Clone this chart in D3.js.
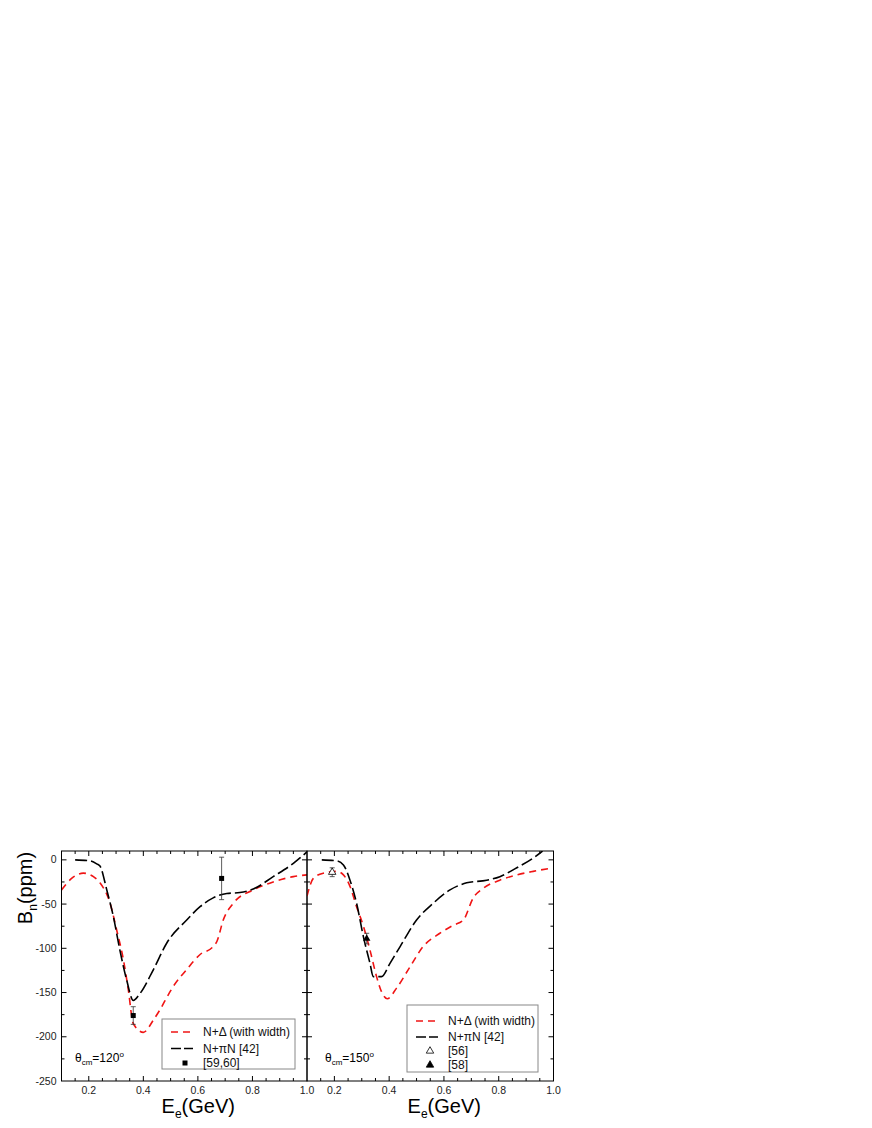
<!DOCTYPE html>
<html>
<head>
<meta charset="utf-8">
<script src="https://cdn.jsdelivr.net/npm/d3@7"></script>
<style>
  body { margin: 0; background: #fff; }
  svg { font-family: "Liberation Sans", Arial, sans-serif; }
</style>
</head>
<body>
<div id="chart"></div>
<script>
// energies (GeV) and B_n (ppm)
const e120Delta = [0.1, 0.137, 0.18, 0.217, 0.241, 0.278, 0.302, 0.327, 0.345, 0.363, 0.4, 0.437, 0.46, 0.498, 0.51, 0.559, 0.608, 0.656, 0.67, 0.693, 0.73, 0.803, 0.876, 0.95, 1.0];
const b120Delta = [-34, -21, -15, -19, -26, -49, -79, -113, -147, -185, -195, -181, -170, -149, -143, -124, -107, -98, -92, -68, -49, -34, -25, -19, -17];
const e120PiN = [0.15, 0.202, 0.229, 0.241, 0.266, 0.29, 0.314, 0.339, 0.363, 0.388, 0.437, 0.486, 0.559, 0.608, 0.656, 0.706, 0.754, 0.803, 0.876, 0.95, 1.0];
const b120PiN = [0, -1, -4.5, -7, -34, -64, -102, -136, -159, -151, -124, -94, -68, -53, -43, -38, -37, -33, -19, -4, 9];
const e150Delta = [0.1, 0.123, 0.16, 0.208, 0.233, 0.257, 0.281, 0.306, 0.33, 0.354, 0.372, 0.393, 0.427, 0.476, 0.524, 0.585, 0.634, 0.671, 0.707, 0.744, 0.804, 0.866, 0.926, 0.98];
const b150Delta = [-41, -21, -15, -13, -17, -30, -53, -75, -102, -132, -149, -157, -145, -121, -98, -83, -74, -68, -43, -32, -23, -17, -13, -10];
const e150PiN = [0.154, 0.208, 0.233, 0.257, 0.281, 0.306, 0.33, 0.342, 0.372, 0.403, 0.44, 0.5, 0.561, 0.622, 0.683, 0.756, 0.804, 0.866, 0.926, 0.96];
const b150PiN = [0, -1, -5.7, -23, -49, -87, -117, -132, -132, -117, -98, -68, -49, -34, -26, -23, -19, -9, 2, 10];
// measurements: energy, value, error
const exp5960 = [[0.363, -176, 10], [0.687, -21, 24]];
const exp56 = [[0.192, -14, 5]];
const exp58 = [[0.318, -89, 6]];

const xTicks = [0.2, 0.4, 0.6, 0.8, 1.0];
const yTicks = [-250, -200, -150, -100, -50, 0];

const width = 872, height = 1128;
const plotTop = 851, plotBottom = 1081;
const svg = d3.select("#chart").append("svg")
  .attr("width", width).attr("height", height);

const y = d3.scaleLinear().domain([-250, 10]).range([plotBottom, plotTop]);

const red = "#f01414";
const zip = (xs, ys) => xs.map((v, i) => [v, ys[i]]);

function drawPanel(left, right, delta, pin, showY) {
  const x = d3.scaleLinear().domain([0.1, 1.0]).range([left, right]);
  const g = svg.append("g");
  const line = d3.line().curve(d3.curveMonotoneX).x(d => x(d[0])).y(d => y(d[1]));

  // minor / major ticks, inward on all sides
  const minorX = d3.range(0.15, 1.0, 0.05);
  const minorY = d3.range(-225, 10, 25);
  minorX.forEach(v => {
    const big = xTicks.some(t => Math.abs(t - v) < 1e-6);
    const len = big ? 5 : 3;
    g.append("line").attr("x1", x(v)).attr("x2", x(v)).attr("y1", plotBottom).attr("y2", plotBottom - len);
    g.append("line").attr("x1", x(v)).attr("x2", x(v)).attr("y1", plotTop).attr("y2", plotTop + len);
  });
  minorY.forEach(v => {
    const big = yTicks.includes(Math.round(v));
    const len = big ? 5 : 3;
    g.append("line").attr("x1", left).attr("x2", left + len).attr("y1", y(v)).attr("y2", y(v));
    g.append("line").attr("x1", right).attr("x2", right - len).attr("y1", y(v)).attr("y2", y(v));
  });
  g.selectAll("line").attr("stroke", "#000").attr("stroke-width", 1);

  g.append("g").selectAll("text").data(xTicks).join("text")
    .attr("x", d => x(d)).attr("y", plotBottom + 13)
    .attr("text-anchor", "middle").attr("font-size", 10.5).attr("fill", "#222")
    .text(d => d.toFixed(1));
  if (showY) {
    g.append("g").selectAll("text").data(yTicks).join("text")
      .attr("x", left - 5).attr("y", d => y(d) + 3.5)
      .attr("text-anchor", "end").attr("font-size", 10.5).attr("fill", "#222")
      .text(d => d);
  }

  const clip = "clip" + Math.round(left);
  svg.append("clipPath").attr("id", clip).append("rect")
    .attr("x", left).attr("y", plotTop).attr("width", right - left).attr("height", plotBottom - plotTop);
  const cg = g.append("g").attr("clip-path", `url(#${clip})`);
  cg.append("path").attr("d", line(delta)).attr("fill", "none")
    .attr("stroke", red).attr("stroke-width", 1.6).attr("stroke-dasharray", "7,5");
  cg.append("path").attr("d", line(pin)).attr("fill", "none")
    .attr("stroke", "#000").attr("stroke-width", 1.6).attr("stroke-dasharray", "12,4");

  g.append("rect").attr("x", left).attr("y", plotTop)
    .attr("width", right - left).attr("height", plotBottom - plotTop)
    .attr("fill", "none").attr("stroke", "#000").attr("stroke-width", 1);

  g.append("text").attr("x", (left + right) / 2 + 14).attr("y", 1113)
    .attr("font-size", 20).attr("text-anchor", "middle")
    .html('E<tspan dy="5" font-size="12">e</tspan><tspan dy="-5">(GeV)</tspan>');
  return { x, g };
}

function errorBars(g, x, data) {
  data.forEach(d => {
    const cx = x(d[0]);
    g.append("line").attr("x1", cx).attr("x2", cx)
      .attr("y1", y(d[1] + d[2])).attr("y2", y(d[1] - d[2]))
      .attr("stroke", "#333").attr("stroke-width", 0.8);
    [d[1] + d[2], d[1] - d[2]].forEach(v => {
      g.append("line").attr("x1", cx - 2.5).attr("x2", cx + 2.5)
        .attr("y1", y(v)).attr("y2", y(v))
        .attr("stroke", "#333").attr("stroke-width", 0.8);
    });
  });
}

const tri = d3.symbol().type(d3.symbolTriangle).size(24);

// left panel, theta = 120
const p1 = drawPanel(61.5, 307, zip(e120Delta, b120Delta), zip(e120PiN, b120PiN), true);
errorBars(p1.g, p1.x, exp5960);
p1.g.selectAll("rect.sq").data(exp5960).join("rect").attr("class", "sq")
  .attr("x", d => p1.x(d[0]) - 2.5).attr("y", d => y(d[1]) - 2.5)
  .attr("width", 5).attr("height", 5).attr("fill", "#000");

// right panel, theta = 150
const p2 = drawPanel(307, 553.5, zip(e150Delta, b150Delta), zip(e150PiN, b150PiN), false);
errorBars(p2.g, p2.x, exp56);
errorBars(p2.g, p2.x, exp58);
p2.g.selectAll("path.t56").data(exp56).join("path").attr("class", "t56")
  .attr("d", tri).attr("transform", d => `translate(${p2.x(d[0])},${y(d[1])})`)
  .attr("fill", "#fff").attr("stroke", "#000").attr("stroke-width", 0.8);
p2.g.selectAll("path.t58").data(exp58).join("path").attr("class", "t58")
  .attr("d", tri).attr("transform", d => `translate(${p2.x(d[0])},${y(d[1])})`)
  .attr("fill", "#000");

// y axis title
svg.append("text").attr("transform", "translate(32,888) rotate(-90)")
  .attr("text-anchor", "middle").attr("font-size", 20)
  .html('B<tspan dy="5" font-size="12">n</tspan><tspan dy="-5">(ppm)</tspan>');

// angle labels
[[75, "120"], [325, "150"]].forEach(([lx, ang]) => {
  svg.append("text").attr("x", lx).attr("y", 1062).attr("font-size", 12)
    .html(`θ<tspan dy="3" font-size="8">cm</tspan><tspan dy="-3">=${ang}</tspan><tspan dy="-5" font-size="8">o</tspan>`);
});

// legends
function legend(bx, by, bw, bh, rows) {
  const g = svg.append("g");
  g.append("rect").attr("x", bx).attr("y", by).attr("width", bw).attr("height", bh)
    .attr("fill", "#fff").attr("stroke", "#888").attr("stroke-width", 1);
  rows.forEach(r => {
    if (r.kind === "line") {
      g.append("line").attr("x1", bx + 9).attr("x2", bx + 31).attr("y1", r.y).attr("y2", r.y)
        .attr("stroke", r.color).attr("stroke-width", 1.6).attr("stroke-dasharray", r.dash);
    } else if (r.kind === "square") {
      g.append("rect").attr("x", bx + 20.5).attr("y", r.y - 2.5).attr("width", 5).attr("height", 5).attr("fill", "#000");
    } else {
      g.append("path").attr("d", tri).attr("transform", `translate(${bx + 23},${r.y})`)
        .attr("fill", r.kind === "open" ? "#fff" : "#000").attr("stroke", "#000").attr("stroke-width", 0.8);
    }
    g.append("text").attr("x", bx + 41).attr("y", r.y + 4).attr("font-size", 12).attr("fill", "#111").text(r.label);
  });
}
legend(162, 1019, 133, 50, [
  { kind: "line", color: red, dash: "7,5", y: 1032, label: "N+Δ (with width)" },
  { kind: "line", color: "#000", dash: "10,3", y: 1048.5, label: "N+πN [42]" },
  { kind: "square", y: 1063, label: "[59,60]" }
]);
legend(407, 1005, 131, 67, [
  { kind: "line", color: red, dash: "7,5", y: 1021, label: "N+Δ (with width)" },
  { kind: "line", color: "#000", dash: "10,3", y: 1037, label: "N+πN [42]" },
  { kind: "open", y: 1051, label: "[56]" },
  { kind: "filled", y: 1065, label: "[58]" }
]);
</script>
</body>
</html>
